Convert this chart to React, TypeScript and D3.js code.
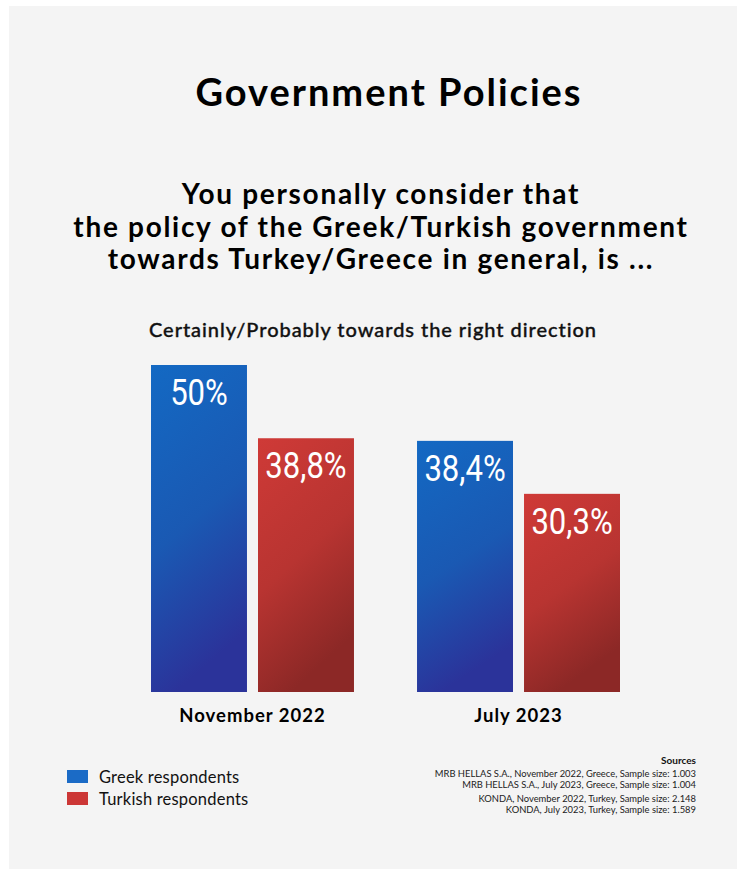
import React from "react";
import * as d3 from "d3";

const categories = ["November 2022", "July 2023"];
const seriesNames = ["Greek respondents", "Turkish respondents"];
const greekValues = [50, 38.4];
const turkishValues = [38.8, 30.3];
const valueLabels = [["50%", "38,8%"], ["38,4%", "30,3%"]];
const sourceLines = [
  "MRB HELLAS S.A., November 2022, Greece, Sample size: 1.003",
  "MRB HELLAS S.A., July 2023, Greece, Sample size: 1.004",
  "KONDA, November 2022, Turkey, Sample size: 2.148",
  "KONDA, July 2023, Turkey, Sample size: 1.589",
];
const titleText = "Government Policies";
const questionLines = [
  "You personally consider that",
  "the policy of the Greek/Turkish government",
  "towards Turkey/Greece in general, is ...",
];
const subtitleText = "Certainly/Probably towards the right direction";

const W = 737;
const H = 869;
const FONT = "Lato, 'Open Sans', sans-serif";
const NUMFONT = "Roboto, 'DejaVu Sans', sans-serif";

export default function App() {
  const x0 = d3.scaleBand<string>().domain(categories).range([151, 620]).paddingInner(0.237).paddingOuter(0);
  const x1 = d3.scaleBand<string>().domain(seriesNames).range([0, x0.bandwidth()]).paddingInner(0.103);
  const y = d3.scaleLinear().domain([0, 50]).range([692, 365]);
  const values = [greekValues, turkishValues];
  const gradIds = ["gradBlue", "gradRed"];
  const legendColors = ["#1b6bc6", "#cc3736"];
  const sourceY = [777, 787.5, 802, 812.5];

  return (
    <div style={{ position: "absolute", left: 0, top: 0 }}>
      <svg width={W} height={H} style={{ display: "block" }}>
        <defs>
          <linearGradient id="gradBlue" x1="0" y1="0" x2="0.25" y2="1">
            <stop offset="0" stopColor="#1369c3" />
            <stop offset="0.55" stopColor="#1a59b3" />
            <stop offset="1" stopColor="#2b339a" />
          </linearGradient>
          <linearGradient id="gradRed" x1="0" y1="0" x2="0.35" y2="1">
            <stop offset="0" stopColor="#cf3a37" />
            <stop offset="0.55" stopColor="#b83431" />
            <stop offset="1" stopColor="#8c2826" />
          </linearGradient>
        </defs>
        <rect x={0} y={0} width={W} height={H} fill="#ffffff" />
        <rect x={9} y={6} width={W - 9} height={H - 6} fill="#f4f4f4" />

        <text x={389} y={106} textAnchor="middle" fontFamily={FONT} fontWeight={700} fontSize={38} letterSpacing={2} fill="#000">
          {titleText}
        </text>
        {questionLines.map((l, i) => (
          <text key={i} x={381} y={204 + i * 32.5} textAnchor="middle" fontFamily={FONT} fontWeight={700} fontSize={28} letterSpacing={1.7} fill="#000">
            {l}
          </text>
        ))}
        <text x={373} y={337} textAnchor="middle" fontFamily={FONT} fontWeight={500} fontSize={20} letterSpacing={0.95} stroke="#111" strokeWidth={0.35} fill="#111">
          {subtitleText}
        </text>

        {categories.map((c, ci) => (
          <g key={c} transform={`translate(${x0(c)},0)`}>
            {seriesNames.map((s, si) => {
              const v = values[si][ci];
              const bx = x1(s)!;
              return (
                <g key={s}>
                  <rect x={bx} y={y(v)} width={x1.bandwidth()} height={y(0) - y(v)} fill={`url(#${gradIds[si]})`} />
                  <text
                    transform={`translate(${bx + x1.bandwidth() / 2},${y(v) + 40}) scale(0.84,1)`}
                    textAnchor="middle"
                    fontFamily={NUMFONT}
                    fontSize={37}
                    fill="#ffffff"
                  >
                    {valueLabels[ci][si]}
                  </text>
                </g>
              );
            })}
            <text x={x0.bandwidth() / 2} y={722} textAnchor="middle" fontFamily={FONT} fontWeight={700} fontSize={18.5} letterSpacing={1} fill="#000">
              {c}
            </text>
          </g>
        ))}

        {seriesNames.map((s, i) => (
          <g key={s}>
            <rect x={67} y={770 + i * 22} width={21} height={13} fill={legendColors[i]} />
            <text x={99} y={783 + i * 21.5} fontFamily={FONT} fontSize={16.5} letterSpacing={0.2} fill="#111">
              {s}
            </text>
          </g>
        ))}

        <text x={696} y={764} textAnchor="end" fontFamily={FONT} fontWeight={700} fontSize={10} fill="#111">
          Sources
        </text>
        {sourceLines.map((l, i) => (
          <text key={i} x={696} y={sourceY[i]} textAnchor="end" fontFamily={FONT} fontSize={9.4} fill="#222">
            {l}
          </text>
        ))}
      </svg>
    </div>
  );
}
